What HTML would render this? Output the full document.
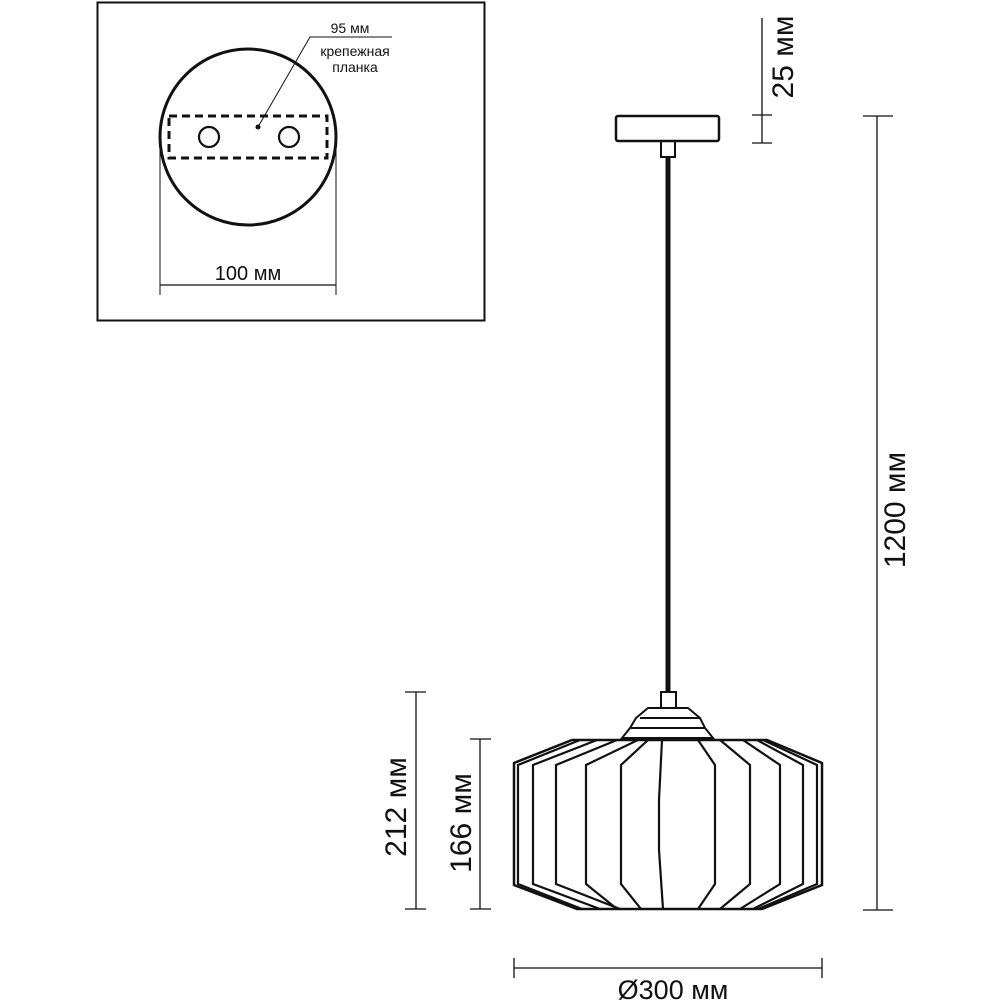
<!DOCTYPE html>
<html><head><meta charset="utf-8"><style>
html,body{margin:0;padding:0;background:#fff}
svg{display:block}
text{font-family:"Liberation Sans","DejaVu Sans",sans-serif;fill:#111}
</style></head><body>
<svg width="1000" height="1000" viewBox="0 0 1000 1000" xmlns="http://www.w3.org/2000/svg">
<g fill="none" stroke="#111">
<rect x="97.5" y="2.5" width="387" height="318" stroke-width="2"/>
<circle cx="248" cy="137" r="88" stroke-width="3"/>
<rect x="169" y="116" width="158" height="42" stroke-width="3" stroke-dasharray="8,5"/>
<circle cx="209" cy="137" r="10" stroke-width="2.2"/>
<circle cx="289" cy="137" r="10" stroke-width="2.2"/>
<polyline points="258,127 310,37 392,37" stroke-width="1"/>
<line x1="160" y1="150" x2="160" y2="295" stroke-width="1"/>
<line x1="336" y1="150" x2="336" y2="295" stroke-width="1"/>
<line x1="160" y1="285" x2="336" y2="285" stroke-width="1.2"/>

<rect x="616" y="116" width="103" height="25" rx="2" stroke-width="2.5"/>
<rect x="661" y="141" width="14" height="16" stroke-width="2"/>
<line x1="668" y1="157" x2="668" y2="692" stroke-width="5"/>
<rect x="661" y="692" width="15" height="16" stroke-width="2"/>
<path d="M648,708 L688,708 L700,718 L705,728 L713,738 L622,738 L630,728 L636,718 Z" stroke-width="2"/>
<line x1="640" y1="718" x2="700" y2="718" stroke-width="2"/>
<line x1="631" y1="728" x2="705" y2="728" stroke-width="2"/>

<path d="M572,740 L767,740 L822,763 L822,885 L762,909 L577,909 L514,885 L514,763 Z" stroke-width="2.5"/>
<g stroke-width="2.2">
<polyline points="580,740 518,765 518,884 582,909"/>
<polyline points="597,740 533,765 533,884 600,909"/>
<polyline points="617,740 556,765 556,884 620,909"/>
<polyline points="638,740 586,765 586,884 617,909"/>
<polyline points="648,740 621,765 621,884 641,909"/>
<polyline points="662,740 659,800 659,850 663,909"/>
<polyline points="698,740 715,765 715,884 698,909"/>
<polyline points="720,740 750,765 750,884 720,909"/>
<polyline points="743,740 780,765 780,884 740,909"/>
<polyline points="757,740 803,765 803,884 753,909"/>
<polyline points="763,740 817,765 817,884 758,909"/>
</g>

<g stroke-width="1.3">
<line x1="877" y1="116" x2="877" y2="910"/>
<line x1="863" y1="116" x2="893" y2="116"/>
<line x1="863" y1="910" x2="893" y2="910"/>
<line x1="762" y1="18" x2="762" y2="143"/>
<line x1="752" y1="115" x2="772" y2="115"/>
<line x1="752" y1="143" x2="772" y2="143"/>
<line x1="416" y1="692" x2="416" y2="909"/>
<line x1="405" y1="692" x2="426" y2="692"/>
<line x1="405" y1="909" x2="426" y2="909"/>
<line x1="480" y1="739" x2="480" y2="909"/>
<line x1="470" y1="739" x2="491" y2="739"/>
<line x1="470" y1="909" x2="491" y2="909"/>
<line x1="514" y1="968" x2="822" y2="968"/>
<line x1="514" y1="958" x2="514" y2="978"/>
<line x1="822" y1="958" x2="822" y2="978"/>
</g>
</g>
<circle cx="258" cy="127" r="2.5" fill="#111"/>

<text x="350" y="33" font-size="14" text-anchor="middle">95 мм</text>
<text x="355" y="56" font-size="14" text-anchor="middle">крепежная</text>
<text x="355" y="72" font-size="14" text-anchor="middle">планка</text>
<text x="248" y="280" font-size="20" text-anchor="middle">100 мм</text>
<text x="673" y="999" font-size="27" text-anchor="middle">Ø300 мм</text>
<text transform="translate(905,510) rotate(-90)" font-size="30" text-anchor="middle">1200 мм</text>
<text transform="translate(793,57) rotate(-90)" font-size="30" text-anchor="middle">25 мм</text>
<text transform="translate(406,807) rotate(-90)" font-size="30" text-anchor="middle">212 мм</text>
<text transform="translate(471,823) rotate(-90)" font-size="30" text-anchor="middle">166 мм</text>
</svg>
</body></html>
